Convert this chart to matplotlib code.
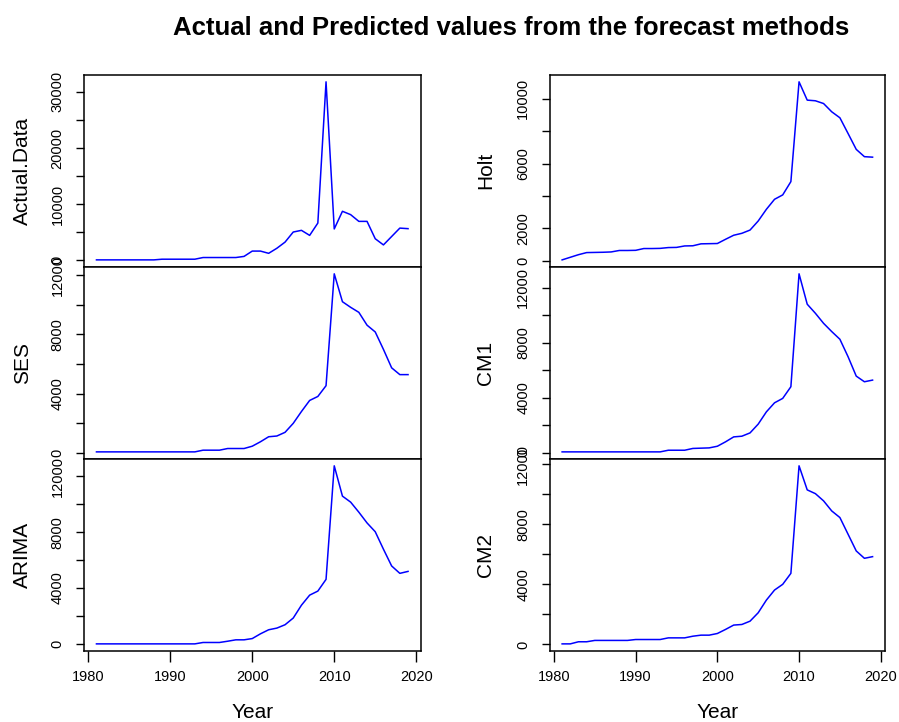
import numpy as np
import matplotlib
matplotlib.use("Agg")
import matplotlib.pyplot as plt

plt.rcParams['font.family'] = ['Liberation Sans', 'DejaVu Sans']

years = np.arange(1981, 2020)

actual = [30] * 8 + [150] * 5 + [450] * 5 + [650] + [
    1600, 1600, 1200, 2100, 3200, 5000, 5300, 4400, 6600, 31800,
    5550, 8700, 8100, 6900, 6900, 3800, 2700, 4200, 5700, 5600]

holt = [60, 220, 380, 510, 520, 530, 550, 640, 640, 650,
        760, 760, 770, 820, 830, 920, 930, 1050, 1060, 1070,
        1330, 1580, 1700, 1900, 2460, 3180, 3800, 4070, 4890, 11050,
        9920, 9880, 9710, 9200, 8830, 7860, 6880, 6430, 6400]

ses = [45] * 13 + [160] * 3 + [273] * 3 + [
    430, 730, 1070, 1120, 1370, 1980, 2780, 3530, 3800, 4530,
    12110, 10220, 9840, 9500, 8630, 8170, 6990, 5740, 5280, 5280]

cm1 = [50] * 13 + [170] * 3 + [300, 320, 340] + [
    460, 780, 1140, 1190, 1430, 2070, 2960, 3620, 3940, 4790,
    13000, 10790, 10130, 9400, 8800, 8240, 6970, 5560, 5150, 5270]

arima = [0] * 13 + [100] * 3 + [190, 290, 290] + [
    380, 720, 1010, 1130, 1370, 1850, 2770, 3490, 3780, 4620,
    12750, 10580, 10150, 9430, 8660, 8030, 6780, 5580, 5050, 5190]

cm2 = [40, 40, 180, 180] + [270] * 5 + [330] * 4 + [440] * 3 + [550, 620, 620] + [
    730, 1000, 1290, 1330, 1550, 2110, 2950, 3620, 4000, 4730,
    11880, 10280, 10030, 9550, 8880, 8440, 7330, 6220, 5730, 5840]

# (name, values, tick step, tick max, labelled ticks)
left = [("Actual.Data", actual, 5000, 30000, [0, 10000, 20000, 30000]),
        ("SES", ses, 2000, 12000, [0, 4000, 8000, 12000]),
        ("ARIMA", arima, 2000, 12000, [0, 4000, 8000, 12000])]
right = [("Holt", holt, 2000, 10000, [0, 2000, 6000, 10000]),
         ("CM1", cm1, 2000, 12000, [0, 4000, 8000, 12000]),
         ("CM2", cm2, 2000, 12000, [0, 4000, 8000, 12000])]

W, H = 899, 722
fig = plt.figure(figsize=(W / 100, H / 100), dpi=100)

def draw_column(panels, x0, x1, lab_x):
    tops = [74.7, 266.7, 458.7]
    ph = 192.3
    for i, (name, vals, step, tmax, shown) in enumerate(panels):
        top = tops[i]
        ax = fig.add_axes([x0 / W, 1 - (top + ph) / H, (x1 - x0) / W, ph / H])
        ax.plot(years, vals, color='blue', lw=1.1)
        ax.margins(x=0.04, y=0.04)
        ticks = np.arange(0, tmax + 1, step)
        ax.set_yticks(ticks)
        ax.set_yticklabels([str(t) if t in shown else '' for t in ticks])
        ax.tick_params(axis='y', labelrotation=90, length=6, width=1.0,
                       pad=8, labelsize=10.5)
        for lbl in ax.get_yticklabels():
            lbl.set_va('center')
        for s in ax.spines.values():
            s.set_linewidth(1.1)
        if i < 2:
            ax.set_xticks([])
        else:
            ax.set_xticks([1980, 1990, 2000, 2010, 2020])
            ax.tick_params(axis='x', length=8, width=1.0, pad=6, labelsize=10.5)
            fig.text((x0 + x1) / 2 / W, 1 - 713 / H, "Year", ha='center',
                     va='center', fontsize=15)
        fig.text(lab_x / W, 1 - (top + ph / 2) / H, name, rotation=90,
                 ha='center', va='center', fontsize=15)

draw_column(left, 84, 420.5, 22.5)
draw_column(right, 549.7, 885, 486)

fig.text(511 / W, 1 - 28 / H, "Actual and Predicted values from the forecast methods",
         ha='center', va='center', fontsize=18.5, fontweight='bold')

fig.savefig("out.png", dpi=100)
